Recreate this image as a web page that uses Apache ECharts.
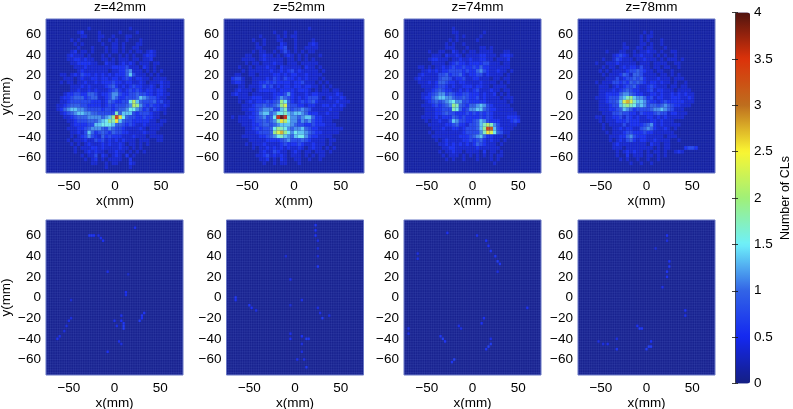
<!DOCTYPE html>
<html><head><meta charset="utf-8">
<script src="https://cdn.jsdelivr.net/npm/echarts@6/dist/echarts.min.js"></script>
<style>html,body{margin:0;padding:0;background:#fff}#c{width:793px;height:409px;filter:blur(.35px)}</style>
</head><body><div id="c"></div>
<script>
const titles = ['z=42mm','z=52mm','z=74mm','z=78mm'];
const xTicks = [-50,0,50];
const yTicks = [-60,-40,-20,0,20,40,60];
const barTicks = [0,0.5,1,1.5,2,2.5,3,3.5,4];

// Rows top (y=+75) to bottom (y=-75), 40 columns each. Each character is a level: value = 0.15 + 0.2 * level (base 36).
const rows42 = [
'0000000000 0000000000 0000000000 0000000000',
'0000000000 0000000000 0000000000 0000000000',
'0000000000 0010000000 0000100000 0000000000',
'0000000001 2000010000 0100001000 0000000000',
'0000000000 1100011001 0001100000 0000000000',
'0000000101 0000010010 1001000100 0000000000',
'0000000010 1000001001 1010001100 0000000000',
'0000000001 0001000101 1010011000 0000000000',
'0000000120 1101000101 1010101101 2100000000',
'0000001211 1010001010 0101010012 2100000000',
'0000001122 1211001101 0111011011 2000000000',
'0000000112 2221100211 0121210111 0110000000',
'0000000011 1211111112 2223111021 0100000000',
'0000000001 2111111101 1224511101 0101000000',
'0000110121 3221212121 2224631110 1010000000',
'0000011101 2112212212 2123212211 0111100000',
'0000101101 1211212223 2212211210 1112110000',
'0000000111 2121111234 2121232211 2102110000',
'0000000112 1121211123 4212323212 2122100000',
'0000012233 2244312235 5322334332 2122110000',
'0000122344 4234411235 4223334654 3321100000',
'0000112333 3332221243 22337a6433 3423110000',
'0001123444 3322221232 33345a9532 3221210000',
'0001245665 5433332332 3445775423 1321100000',
'0000123456 6554433333 8466632333 2110100000',
'0000011234 4455554569 gc74332232 2110000000',
'0000001123 3344456798 c643322222 1101100000',
'0000000122 2233667776 4432321121 1111000000',
'0000001112 2345554354 3321111210 1110000000',
'0000000112 1364234324 3322111121 1100000000',
'0000000101 2353214232 2211121110 1111000000',
'0000001011 1211323121 2121110111 0011000000',
'0000000101 0121112121 1210110101 0000000000',
'0000000010 1112212111 1211010100 0000000000',
'0000000010 0121211011 2110101010 0000000000',
'0000000000 1011302101 2102010000 0000000000',
'0000000000 0101201011 1100200000 0000000000',
'0000000000 0001100101 1000210000 0000000000',
'0000000000 0000000100 0000100000 0000000000',
'0000000000 0000000000 0000000000 0000000000'];
const rows52 = [
'0000000000 0000000000 0000000000 0000000000',
'0000000000 0000000000 0000000000 0000000000',
'0000000000 0000000000 0000100000 0000000000',
'0000000000 0000100100 1000000000 0000000000',
'0000000000 1000010101 1000000000 0000000000',
'0000000010 0100011000 1000010000 0000000000',
'0000000001 0100002100 1000121000 0000000000',
'0000000001 1000012300 1001111000 0000000000',
'0000000010 1100101310 1010110000 0000000000',
'0000001100 1211010121 0101000100 0000000000',
'0000011110 1211111011 0101010000 0000000000',
'0000001011 0111211011 1011111000 0000000000',
'0000100101 1121102111 1102110100 0000000000',
'0000010111 1112112123 1211111010 0000000000',
'0001100110 1111221212 2112111100 0000000000',
'0023310011 1121321322 1212111010 0000000000',
'0012210011 2232322221 2231110101 0000000000',
'0000110111 2423121221 2212211010 1000000000',
'0001211101 2222212222 1222101011 0110000000',
'0012111011 1111222352 1112122111 1121000000',
'0000111122 2111235432 1212333101 2112100000',
'0000101212 2232349742 1232342111 1121110000',
'0000011123 3433459b43 3221221122 1212100000',
'0000011223 4555336843 4454311111 2111000000',
'0000001123 5664577865 6654222112 1110000000',
'0010111223 45347hjh75 5456642211 1110000000',
'0000111123 343458ca75 5354532211 1000000000',
'0000011122 3443456665 4332232221 1100000000',
'0000001123 2334798754 5564322111 1111000000',
'0000001112 33349bd975 7665432211 1110000000',
'0000011111 2234578654 6775322111 1000000000',
'0000000111 1122223453 3343211110 1100000000',
'0000001011 1211112322 2321121110 1000000000',
'0000000010 1121212121 1210121101 0100000000',
'0000000000 1211321101 2101101110 1000000000',
'0000000001 1231212101 1101010110 0000000000',
'0000000000 1120102100 1100100100 0000000000',
'0000000000 0100101100 0100000000 0000000000',
'0000000000 0000000000 0000000000 0000000000',
'0000000000 0000000000 0000000000 0000000000'];
const rows74 = [
'0000000000 0000000000 0000000000 0000000000',
'0000000000 0000000000 0000000000 0000000000',
'0000000000 0000100000 0000000000 0000000000',
'0000000000 0000110000 0001000000 0000000000',
'0000000000 0000010100 0010000000 0000000000',
'0000000000 0001010000 0100000000 0000000000',
'0000000000 0010100100 0000000000 0000000000',
'0000000000 0011100010 0011010000 0000000000',
'0000000100 1100210101 1011110001 1000000000',
'0000000011 1021121011 1122111012 2100000000',
'0000000122 1110112112 1122110111 2000000000',
'0000000011 1101232212 2223311101 1000000000',
'0000110101 1212322322 3242211111 1000000000',
'0000011212 1223333232 2453211211 0100000000',
'0000121111 3342334212 2331211110 1000000000',
'0001211111 3443122311 2211101101 1000000000',
'0000111212 4432212211 1121111010 1000000000',
'0000011112 3321211222 1221101111 0000000000',
'0000001123 4322112121 2311121101 1000000000',
'0000011234 5534322332 2212112010 1000000000',
'0000012245 6655433432 2312111101 1100000000',
'0000001234 3456755332 2222111111 0100000000',
'0000011123 2345984324 4565321111 1000000000',
'0000001112 2333874235 5664322111 1100000000',
'0000001112 2343322232 3232321111 1110000000',
'0000011112 1222432322 2232321111 2221000000',
'0000001011 2113653322 3465322211 1232000000',
'0000000111 1122342213 3468a85311 1110000000',
'0000000011 1211221233 3469gf6321 1100000000',
'0000000101 1111111233 3358cb7431 1000000000',
'0000000011 1111112223 4564221110 1000000000',
'0000000001 0121111223 2342121101 0000000000',
'0000000000 1121212121 2432111010 0000000000',
'0000000000 0112211111 1211111100 0000000000',
'0000000000 1011211011 1102011010 0000000000',
'0000000000 0101110101 0101010110 0000000000',
'0000000000 0010100100 0100010100 0000000000',
'0000000000 0000000000 0000001000 0000000000',
'0000000000 0000000000 0000000000 0000000000',
'0000000000 0000000000 0000000000 0000000000'];
const rows78 = [
'0000000000 0000000000 0000000000 0000000000',
'0000000000 0000000000 0000000000 0000000000',
'0000000000 0000000000 0000000000 0000000000',
'0000000000 0000000001 0100000000 0000000000',
'0000000000 0000000010 1100000000 0000000000',
'0000000000 0000000010 1000100000 0000000000',
'0000000000 0001000011 0100100000 0000000000',
'0000000000 0001100110 1100010000 0000000000',
'0000000010 0011001011 2110100110 0000000000',
'0000000000 1232101121 1101010010 0000000000',
'0000000100 1321110112 1110101110 1000000000',
'0000010011 1211111011 1011110011 0000000000',
'0000000101 1012122131 1011011001 0000000000',
'0000001010 1111233432 1101100100 0000000000',
'0000000101 1124314431 1110110101 0000000000',
'0000000011 1312334342 1112111011 1000000000',
'0000010111 3323243432 1221211010 0100000000',
'0000001110 1212334211 2321110110 1100000000',
'0000001111 2123432211 2312211101 1110000000',
'0000001122 2245543221 1221211212 1211000000',
'0000011123 3356896554 2312211222 1121000000',
'0000001123 346bdb8665 3221232222 2111000000',
'0000001112 3368987565 3443454322 1110000000',
'0000001112 2346542333 3455654311 1000000000',
'0000000111 3343322132 2234331221 1100000000',
'0000011011 2231321211 2212121111 1000000000',
'0000001011 1222322211 1221211100 0000000000',
'0000000101 1113122223 4521211111 0000000000',
'0000000100 1121221134 5421121010 0000000000',
'0000000010 1112332223 2211111100 0000000000',
'0000000001 1122453222 1111101110 0000000000',
'0000000001 0121342122 1121111001 0000000000',
'0000000000 1211111111 0211011000 0000000000',
'0000000000 1110111111 1101011000 0233200000',
'0000000000 0101212110 1011010012 1000000000',
'0000000000 0100201110 1101010000 0000000000',
'0000000000 0010100100 1001000000 0000000000',
'0000000000 0000010010 0100000000 0000000000',
'0000000000 0000000000 0000000000 0000000000',
'0000000000 0000000000 0000000000 0000000000'];

// Bottom row: background value plus a few faint spots [x, y, value].
const spots42 = [[-27.5,60,.55],[-25,60,.55],[-22.5,60,.5],[-17.5,60,.4],[-15,57.5,.5],[-12.5,55,.5],[22.5,67.5,.45],[-7.5,25,.45],[15,22.5,.3],[12.5,5,.5],[12.5,2.5,.45],[-47.5,-2.5,.35],[32.5,-15,.55],[30,-17.5,.55],[30,-20,.5],[27.5,-22.5,.6],[7.5,-17.5,.45],[7.5,-22.5,.5],[10,-25,.55],[10,-27.5,.6],[10,-30,.6],[0,-22.5,.45],[2.5,-27.5,.45],[-47.5,-20,.4],[-50,-22.5,.45],[-52.5,-27.5,.4],[-55,-32.5,.4],[-60,-37.5,.45],[-62.5,-40,.5],[5,-42.5,.45],[7.5,-45,.4],[-7.5,-52.5,.5]];
const spots52 = [[22.5,70,.55],[22.5,65,.5],[22.5,60,.5],[25,55,.4],[25,47.5,.35],[25,40,.35],[25,30,.55],[-5,17.5,.45],[-10,40,.35],[-65,0,.55],[-65,-2.5,.5],[-50,-7.5,.55],[-47.5,-10,.5],[-42.5,-12.5,.4],[7.5,-2.5,.45],[-5,-7.5,.35],[25,-10,.4],[27.5,-15,.45],[30,-20,.6],[37.5,-17.5,.4],[-5,-35,.45],[-5,-40,.5],[7.5,-37.5,.5],[12.5,-40,.6],[15,-40,.55],[7.5,-45,.4],[7.5,-52.5,.4],[10,-60,.4],[12.5,-67.5,.55],[2.5,-60,.45]];
const spots74 = [[-27.5,62.5,.5],[5,60,.45],[15,55,.5],[17.5,50,.5],[20,45,.55],[25,40,.55],[27.5,35,.6],[30,32.5,.55],[27.5,25,.4],[-60,42.5,.4],[-60,37.5,.4],[60,-10,.5],[12.5,-20,.5],[10,-25,.5],[-15,-27.5,.45],[-12.5,-30,.4],[-70,-30,.45],[-70,-35,.4],[-35,-37.5,.55],[-32.5,-40,.65],[-30,-42.5,.55],[20,-40,.45],[20,-45,.6],[17.5,-47.5,.65],[15,-50,.55],[-20,-60,.65],[-22.5,-62.5,.55]];
const spots78 = [[22.5,60,.5],[22.5,55,.4],[10,47.5,.35],[25,35,.5],[25,30,.55],[22.5,25,.55],[22.5,20,.5],[17.5,10,.45],[42.5,-12.5,.5],[42.5,-17.5,.45],[-7.5,-30,.6],[-5,-30,.55],[-10,-27.5,.5],[-52.5,-42.5,.4],[-47.5,-45,.4],[-42.5,-45,.45],[-32.5,-40,.4],[-32.5,-50,.55],[5,-42.5,.5],[2.5,-47.5,.65],[0,-50,.6],[5,-47.5,.6]];

const topRows = [rows42, rows52, rows74, rows78];
const bottomSpots = [spots42, spots52, spots74, spots78];
const colormap = ['#141e82','#1428f0','#3264e6','#6ef0fa','#a0f078','#faf532','#be6e1e','#dc320a','#50140f'];
const valueMin = 0, valueMax = 4, axisMax = 75, coarseCell = 3.75, fineCell = 2.5, meshStep = 2.5;

const lefts = [[46,224,404,578],[46,226.5,404,578]];
const tops = [19,220], heights = [154,155], widths = [[138,140,137,137],[137,137,137,137]];
const font = 'Liberation Sans, Arial, sans-serif', fontSize = 13.5;
const minus = v => String(v).replace('-', '\u2212');

function cellsFromRows(rows){
  const out = [];
  rows.forEach((r,i)=>{
    r.replace(/ /g,'').split('').forEach((c,j)=>{
      out.push([-axisMax+coarseCell*(j+.5), axisMax-coarseCell*(i+.5), .15+.2*parseInt(c,36)]);
    });
  });
  return out;
}
function cellRender(size){
  return function(params, api){
    const a = api.coord([api.value(0)-size/2, api.value(1)+size/2]);
    const b = api.coord([api.value(0)+size/2, api.value(1)-size/2]);
    return {type:'rect', shape:{x:a[0],y:a[1],width:b[0]-a[0],height:b[1]-a[1]}, style:{fill:api.visual('color')}};
  };
}
function meshRender(params, api){
  const kids = [];
  for(let v=-axisMax; v<=axisMax; v+=meshStep){
    const p=api.coord([v,-axisMax]), q=api.coord([v,axisMax]), r=api.coord([-axisMax,v]), s=api.coord([axisMax,v]);
    kids.push({type:'line',shape:{x1:p[0],y1:p[1],x2:q[0],y2:q[1]},style:{stroke:'rgba(150,170,255,.16)',lineWidth:.6}});
    kids.push({type:'line',shape:{x1:r[0],y1:r[1],x2:s[0],y2:s[1]},style:{stroke:'rgba(150,170,255,.16)',lineWidth:.6}});
  }
  const a=api.coord([-axisMax,axisMax]), b=api.coord([axisMax,-axisMax]);
  kids.push({type:'rect',shape:{x:a[0],y:a[1],width:b[0]-a[0],height:b[1]-a[1]},style:{fill:'none',stroke:'#6a78c4',lineWidth:1}});
  return {type:'group',children:kids};
}

const grids=[], xAxes=[], yAxes=[], series=[], texts=[], dataSeries=[];
for(let row=0; row<2; row++) for(let col=0; col<4; col++){
  const g = grids.length;
  grids.push({left:lefts[row][col], top:tops[row], width:widths[row][col], height:heights[row], outerBoundsMode:'none',
    show:true, backgroundColor:'#18228f', borderWidth:0});
  xAxes.push({type:'value', gridIndex:g, min:-axisMax, max:axisMax, splitLine:{show:false}, axisLine:{show:false},
    axisTick:{show:false}, axisLabel:{customValues:xTicks, formatter:minus, margin:6, color:'#000', fontFamily:font, fontSize},
    name:'x(mm)', nameLocation:'middle', nameGap:21, nameTextStyle:{color:'#000', fontFamily:font, fontSize}});
  yAxes.push({type:'value', gridIndex:g, min:-axisMax, max:axisMax, splitLine:{show:false}, axisLine:{show:false},
    axisTick:{show:false}, axisLabel:{customValues:yTicks, formatter:minus, margin:5, color:'#000', fontFamily:font, fontSize},
    name: col===0?'y(mm)':'', nameLocation:'middle', nameGap:33, nameTextStyle:{color:'#000', fontFamily:font, fontSize}});
  const isTop = row===0;
  dataSeries.push(series.length);
  series.push({type:'custom', xAxisIndex:g, yAxisIndex:g, coordinateSystem:'cartesian2d', silent:true,
    clip:true, animation:false, encode:{x:0,y:1},
    data:isTop?cellsFromRows(topRows[col]):bottomSpots[col],
    renderItem:cellRender(isTop?coarseCell:fineCell)});
  series.push({type:'custom', xAxisIndex:g, yAxisIndex:g, coordinateSystem:'cartesian2d', silent:true,
    clip:false, animation:false, data:[[0,0]], renderItem:meshRender});
  if(isTop) texts.push({text:titles[col], left:lefts[0][col]+widths[0][col]/2, top:-5, textAlign:'center',
    textStyle:{color:'#000',fontFamily:font,fontSize,fontWeight:'normal'}});
}
// colour bar axis
const bg = grids.length;
grids.push({left:735, top:12.5, width:15, height:371, show:false, outerBoundsMode:'none'});
xAxes.push({type:'value', gridIndex:bg, show:false});
const barAxis = (pos,showLabel)=>({type:'value', gridIndex:bg, position:pos, z:8, min:valueMin, max:valueMax, interval:.5, splitLine:{show:false},
  axisLine:{show:true,lineStyle:{color:'#444',width:.6}}, axisTick:{show:true,inside:true,length:3,lineStyle:{color:'#111',width:.8}},
  axisLabel:{show:showLabel,margin:4,color:'#000',fontFamily:font,fontSize,
    customValues:showLabel?barTicks:undefined},
  name:showLabel?'Number of CLs':'', nameLocation:'middle', nameRotate:90, nameGap:29, nameTextStyle:{color:'#000',fontFamily:font,fontSize:12.5}});
yAxes.push(barAxis('right',true));
yAxes.push(barAxis('left',false));
series.push({type:'custom', xAxisIndex:8, yAxisIndex:8, data:[], renderItem:()=>null});
series.push({type:'custom', xAxisIndex:8, yAxisIndex:9, data:[], renderItem:()=>null});

const chart = echarts.init(document.getElementById('c'), null, {renderer:'canvas'});
chart.setOption({
  animation:false, backgroundColor:'#fff', title:texts, grid:grids, xAxis:xAxes, yAxis:yAxes, series,
  visualMap:[{type:'continuous', seriesIndex:dataSeries, dimension:2, min:valueMin, max:valueMax, calculable:false, realtime:false,
    left:735, top:12.5, itemWidth:15, itemHeight:371, padding:0, text:null, showLabel:false, hoverLink:false, z:4,
    inRange:{color:colormap}, outOfRange:{color:colormap[0]}}]
});
</script></body></html>
